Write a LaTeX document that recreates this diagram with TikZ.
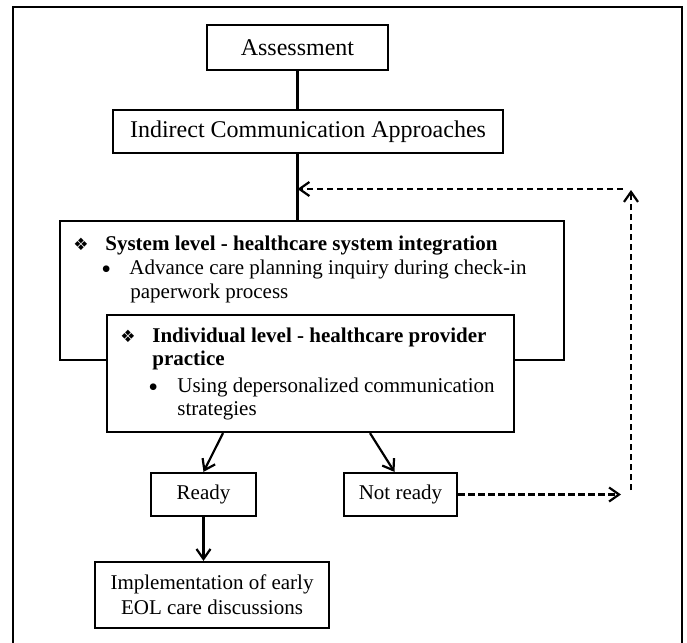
\documentclass[tikz,border=0pt]{standalone}
\usepackage{fontspec}
\setmainfont{Liberation Serif}
\newfontfamily\dingfont{DejaVu Sans}
\usetikzlibrary{%
    arrows.meta,
    calc,
    positioning
}
\tikzset{box/.style = {draw, line width=1.1pt, inner sep=0pt, fill=white, font=\fontsize{10.5}{12.5}\selectfont}}
\tikzset{titlebox/.style = {box, font=\fontsize{12}{14}\selectfont}}
\tikzset{flowarrow/.style = {line width=1.1pt, -{Straight Barb[length=5pt,width=7pt]}}}
\tikzset{loopback/.style = {line width=1.1pt, dash pattern=on 3.2pt off 1.8pt, -{Straight Barb[length=5pt,width=7pt]}}}
\newcommand{\levelmark}{{\dingfont\fontsize{8.5}{8.5}\selectfont ❖}}
\newcommand{\itemdot}{\raisebox{-2.2pt}{\fontsize{14}{10}\selectfont •}}

\begin{document}
\begin{tikzpicture}[x=0.5pt, y=-0.5pt]
    \useasboundingbox (0,0) rectangle (687,643);
    % outer frame
    \draw[line width=1.3pt] (13,7) rectangle (682,660);

    % top boxes
    \node[titlebox, minimum width=90.5pt, minimum height=22.5pt] (assess) at (297.5,47.5) {Assessment};
    \node[titlebox, minimum width=195pt, minimum height=21.5pt] (indirect) at (308,131.5) {Indirect Communication Approaches};

    % nested levels
    \node[box, minimum width=252pt, minimum height=69.5pt] (system) at (312,290.5) {};
    \node[anchor=base west, inner sep=0pt, font=\fontsize{10.5}{12}\selectfont] (system-text) at (73,250)
        {\parbox[t]{240pt}{%
            \makebox[16pt][l]{\levelmark}\textbf{System level - healthcare system integration}\\
            \hspace*{14pt}\makebox[14pt][l]{\itemdot}Advance care planning inquiry during check-in\\
            \hspace*{28.5pt}paperwork process}};
    \node[box, minimum width=203.5pt, minimum height=58.5pt] (individual) at (310.5,373.5) {};
    \node[anchor=base west, inner sep=0pt, font=\fontsize{10.5}{11.5}\selectfont] (individual-text) at (120,342)
        {\parbox[t]{195pt}{%
            \makebox[16pt][l]{\levelmark}\textbf{Individual level - healthcare provider}\\
            \hspace*{16pt}\textbf{practice}\\[2pt]
            \hspace*{14pt}\makebox[14.5pt][l]{\itemdot}Using depersonalized communication\\
            \hspace*{28.5pt}strategies}};

    % outcomes
    \node[box, minimum width=52.5pt, minimum height=21.5pt] (ready) at (203.5,494.5) {Ready};
    \node[box, minimum width=56.5pt, minimum height=21.5pt] (notready) at (400.5,494.5) {Not ready};
    \node[box, minimum width=117pt, minimum height=33pt, align=center] (implement) at (212,595)
        {Implementation of early\\EOL care discussions};

    % loop points
    \coordinate (loopin) at (621,494.5);
    \coordinate (loopbottom) at (631,490);
    \coordinate (looptop) at (631,190);
    \coordinate (loopstart) at (623,189);
    \coordinate (merge) at (297.5,189);

    % edges
    \draw[line width=1.1pt] (assess.south) -- (assess.south |- indirect.north);
    \draw[line width=1.1pt] (assess.south |- indirect.south) -- (assess.south |- system.north);
    \draw[flowarrow] ([xshift=-43.75pt]individual.south) -- (ready.north);
    \draw[flowarrow] ([xshift=29.75pt]individual.south) -- ([xshift=-3pt]notready.north);
    \draw[flowarrow] (ready.south) -- (ready.south |- implement.north);

    % not ready loop
    \draw[loopback] (notready.east) -- (loopin);
    \draw[loopback] (loopbottom) -- (looptop);
    \draw[loopback] (loopstart) -- (merge);
\end{tikzpicture}
\end{document}
